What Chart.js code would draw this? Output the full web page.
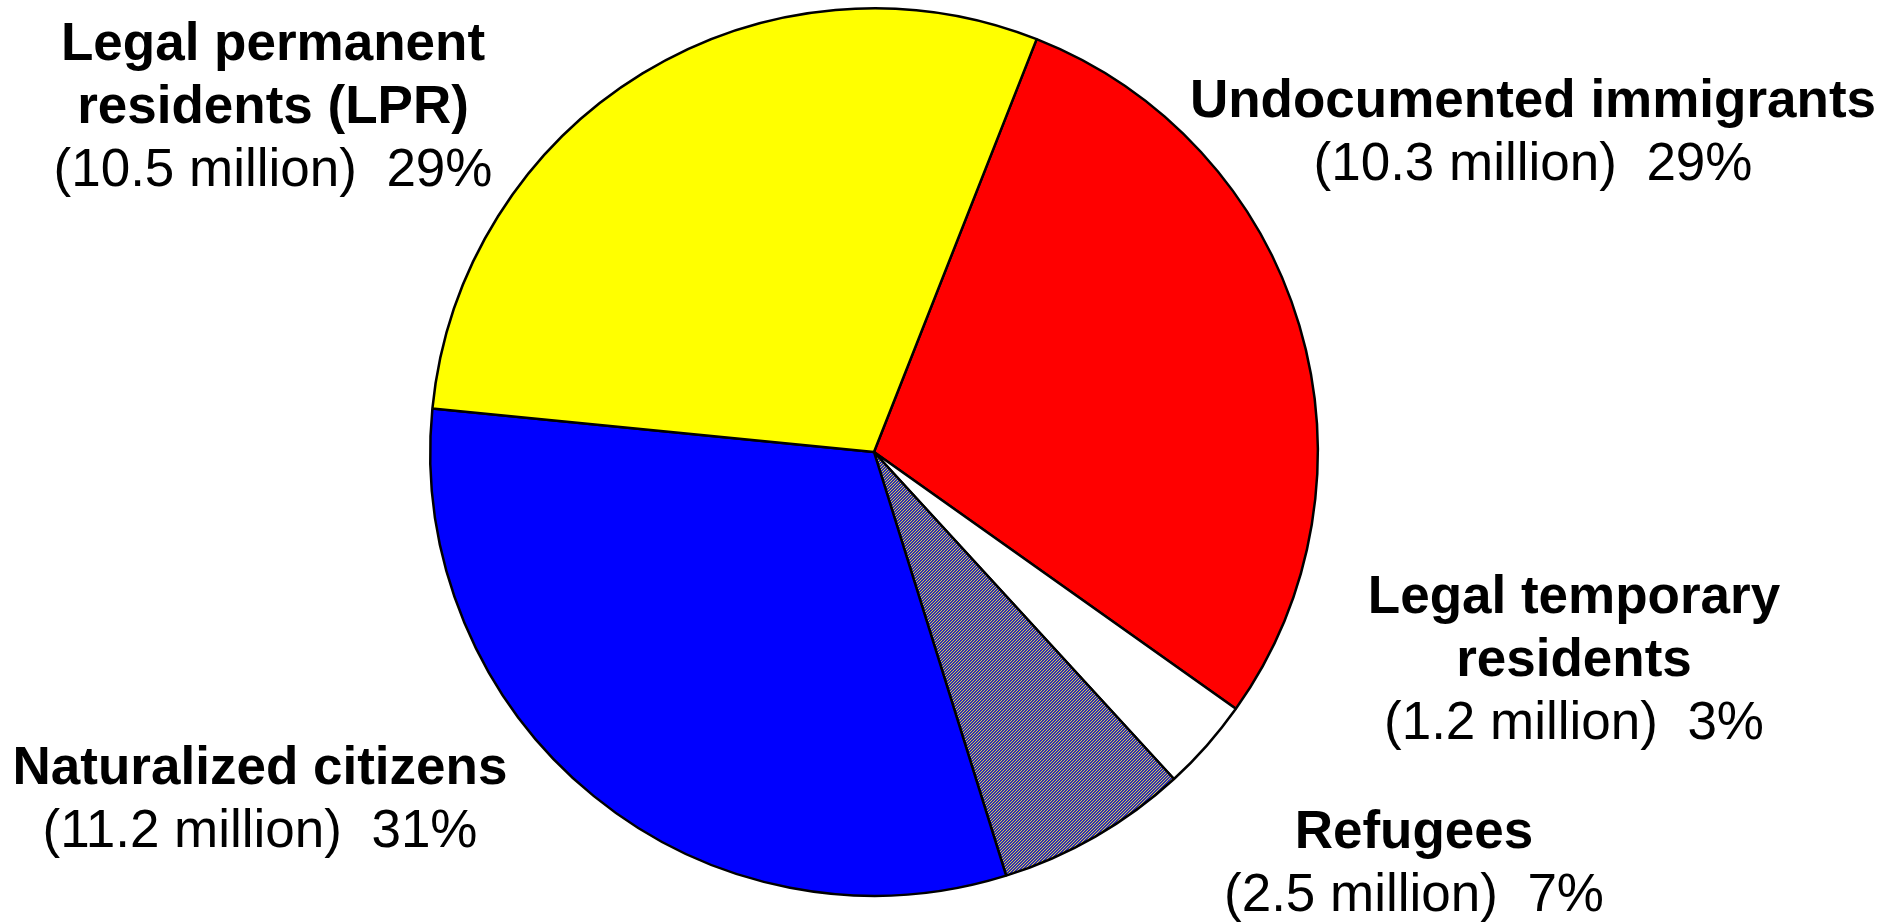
<!DOCTYPE html>
<html>
<head>
<meta charset="utf-8">
<title>Immigrant population by status</title>
<script src="https://cdn.jsdelivr.net/npm/chart.js@4"></script>
<style>
    html, body { margin: 0; padding: 0; background: #fff; }
    #wrap { width: 1885px; height: 924px; position: relative; }
</style>
</head>
<body>
<div id="wrap"><canvas id="pie"></canvas></div>
<script>
// slices, clockwise from the top-right
const groups = ['Undocumented immigrants', 'Legal temporary residents', 'Refugees', 'Naturalized citizens', 'Legal permanent residents (LPR)'];
const millions = [10.3, 1.2, 2.5, 11.2, 10.5];
const percents = [29, 3, 7, 31, 29];
const titleLines = [
    ['Undocumented immigrants'],
    ['Legal temporary', 'residents'],
    ['Refugees'],
    ['Naturalized citizens'],
    ['Legal permanent', 'residents (LPR)']
];

// where each label block sits (centre x, first baseline y)
const labelSpots = [[1533, 117], [1574, 613], [1414, 848], [260, 784], [273, 60]];
const lineGap = 63;

// fine blue/yellow hatch used for the refugees slice
function hatchPattern() {
    const c = document.createElement('canvas');
    c.width = 3; c.height = 3;
    const g = c.getContext('2d');
    for (let y = 0; y < 3; y++) {
        for (let x = 0; x < 3; x++) {
            g.fillStyle = ((x + y) % 3 === 0) ? '#d8cc50' : '#2c2cb8';
            g.fillRect(x, y, 1, 1);
        }
    }
    return g.createPattern(c, 'repeat');
}

const sliceLabels = {
    id: 'sliceLabels',
    afterDraw(chart) {
        const ctx = chart.ctx;
        ctx.save();
        ctx.fillStyle = '#000';
        ctx.textAlign = 'center';
        ctx.textBaseline = 'alphabetic';
        labelSpots.forEach((spot, i) => {
            let y = spot[1];
            ctx.font = 'bold 53px "Liberation Sans", Arial, sans-serif';
            titleLines[i].forEach(line => {
                ctx.fillText(line, spot[0], y);
                y += lineGap;
            });
            ctx.font = '53px "Liberation Sans", Arial, sans-serif';
            ctx.fillText('(' + millions[i] + ' million)  ' + percents[i] + '%', spot[0], y);
        });
        ctx.restore();
    }
};

new Chart(document.getElementById('pie'), {
    type: 'pie',
    data: {
        labels: groups,
        datasets: [{
            data: millions,
            backgroundColor: ['#ff0000', '#ffffff', hatchPattern(), '#0000ff', '#ffff00'],
            borderColor: '#000',
            borderWidth: 2.5
        }]
    },
    options: {
        responsive: true,
        maintainAspectRatio: false,
        animation: false,
        rotation: 21.5,
        layout: { padding: { left: 429, right: 566, top: 7, bottom: 27 } },
        plugins: {
            legend: { display: false },
            tooltip: { enabled: false }
        }
    },
    plugins: [sliceLabels]
});
</script>
</body>
</html>
